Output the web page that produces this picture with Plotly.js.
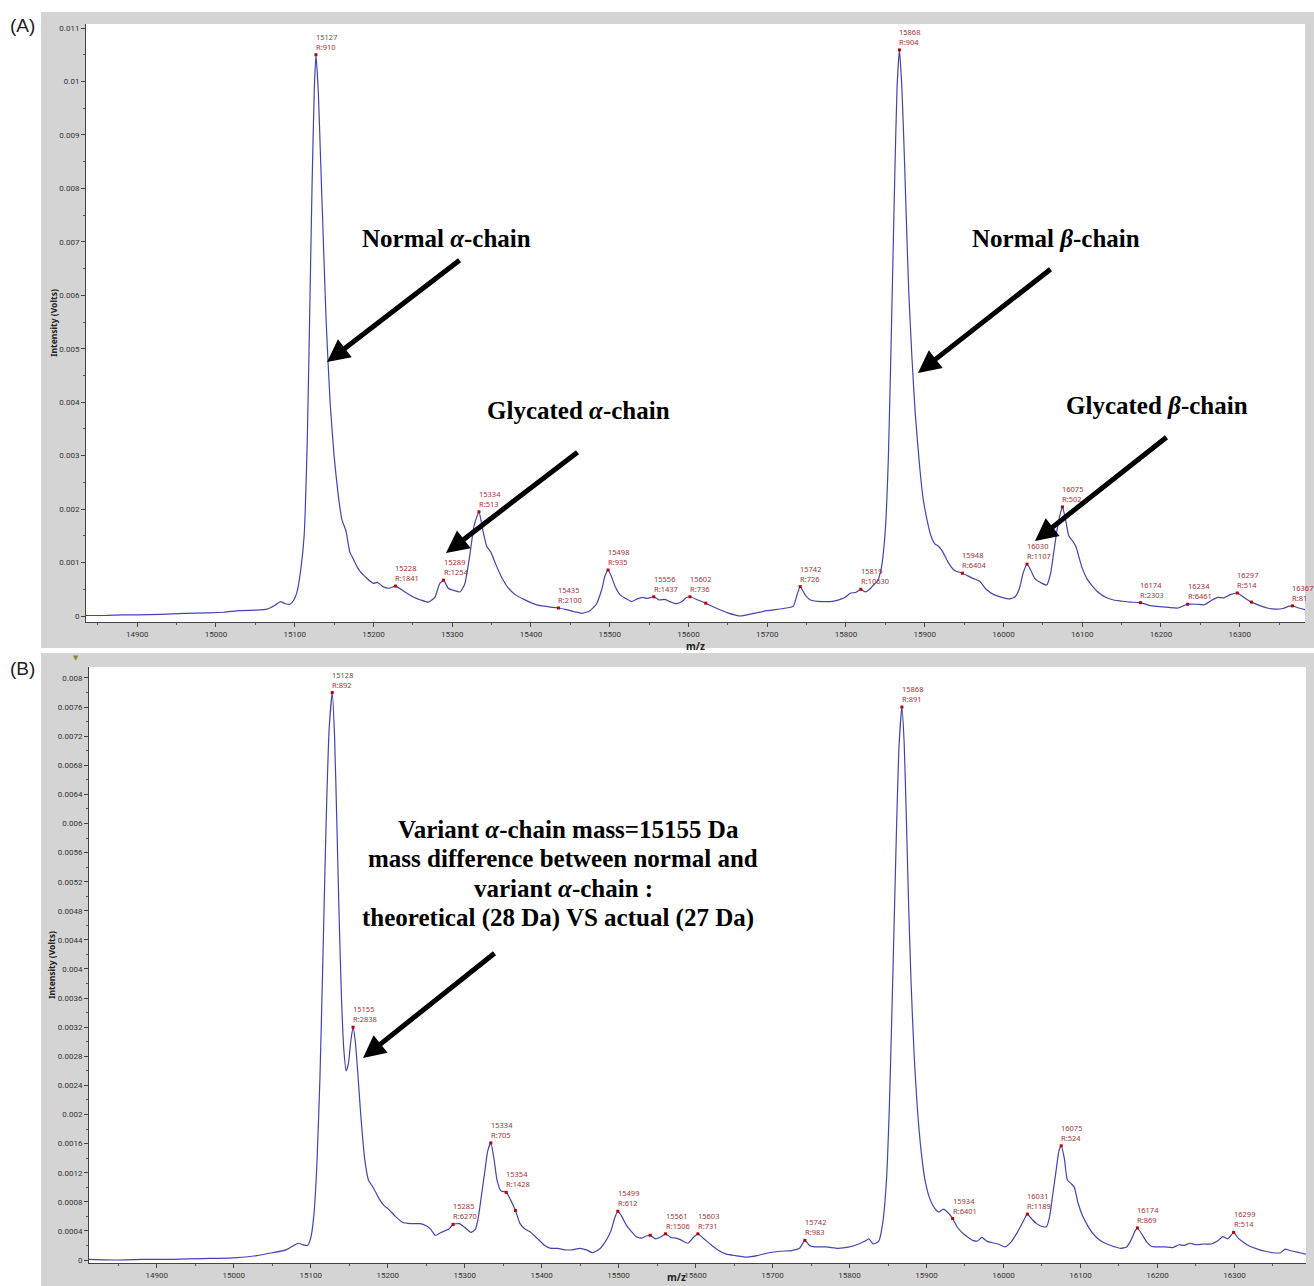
<!DOCTYPE html>
<html><head><meta charset="utf-8">
<script src="https://cdn.plot.ly/plotly-3.0.1.min.js"></script>
<style>html,body{margin:0;padding:0;background:#fff;overflow:hidden}#chart{width:1314px;height:1286px}</style>
</head><body><div id="chart"></div>
<script>
// ---------- Panel A spectrum (m/z, intensity in Volts) ----------
const massA = [14835,14860,14880,14900,14930,14960,14990,15010,15030,15050,15065,15075,15082,15088,15094,15099,15103,15108,15112,15116,15119,15122,15125,15127,15130,15133,15136,15140,15145,15150,15155,15160,15165,15170,15175,15180,15185,15190,15195,15200,15205,15212,15220,15228,15240,15250,15260,15270,15278,15284,15289,15295,15302,15310,15316,15322,15328,15334,15339,15344,15349,15355,15362,15370,15380,15390,15400,15410,15420,15428,15435,15445,15455,15465,15475,15483,15490,15494,15498,15502,15507,15513,15520,15528,15535,15542,15548,15556,15563,15570,15578,15585,15592,15597,15602,15612,15622,15635,15650,15666,15680,15700,15720,15733,15738,15742,15748,15755,15770,15785,15798,15806,15812,15819,15825,15830,15835,15840,15845,15850,15854,15858,15862,15865,15868,15871,15874,15877,15880,15884,15888,15893,15898,15903,15908,15913,15918,15923,15930,15938,15948,15955,15962,15970,15978,15988,15998,16008,16015,16020,16025,16030,16035,16040,16048,16055,16060,16064,16068,16072,16075,16079,16083,16088,16092,16096,16100,16106,16112,16120,16130,16140,16150,16160,16174,16185,16195,16210,16222,16234,16245,16255,16265,16272,16280,16288,16297,16305,16315,16325,16335,16345,16355,16362,16367,16375,16383];
const intA = [0.00001,0.00001,0.00002,0.00002,0.00003,0.00005,0.00006,0.00007,0.00010,0.00011,0.00013,0.00020,0.00027,0.00023,0.00022,0.00030,0.00045,0.00090,0.00150,0.00330,0.00560,0.00800,0.00990,0.01050,0.00980,0.00850,0.00720,0.00550,0.00400,0.00300,0.00230,0.00180,0.00160,0.00120,0.00105,0.00090,0.00080,0.00073,0.00066,0.00061,0.00063,0.00055,0.00052,0.00056,0.00045,0.00036,0.00030,0.00026,0.00035,0.00060,0.00067,0.00052,0.00048,0.00045,0.00060,0.00110,0.00170,0.00195,0.00160,0.00130,0.00120,0.00098,0.00075,0.00055,0.00040,0.00032,0.00025,0.00020,0.00018,0.00016,0.00015,0.00012,0.00008,0.00005,0.00010,0.00022,0.00050,0.00075,0.00086,0.00075,0.00055,0.00040,0.00033,0.00027,0.00032,0.00035,0.00033,0.00036,0.00030,0.00031,0.00026,0.00023,0.00027,0.00034,0.00036,0.00030,0.00024,0.00015,0.00006,0.00000,0.00004,0.00010,0.00014,0.00018,0.00040,0.00055,0.00040,0.00030,0.00027,0.00028,0.00034,0.00043,0.00044,0.00050,0.00045,0.00050,0.00058,0.00065,0.00090,0.00160,0.00300,0.00550,0.00820,0.00990,0.01059,0.00990,0.00870,0.00730,0.00600,0.00480,0.00380,0.00290,0.00220,0.00180,0.00150,0.00135,0.00130,0.00120,0.00100,0.00085,0.00080,0.00075,0.00070,0.00065,0.00050,0.00040,0.00035,0.00032,0.00036,0.00050,0.00080,0.00097,0.00085,0.00070,0.00062,0.00058,0.00080,0.00120,0.00160,0.00190,0.00204,0.00180,0.00150,0.00140,0.00130,0.00110,0.00090,0.00070,0.00058,0.00045,0.00035,0.00030,0.00028,0.00026,0.00025,0.00020,0.00018,0.00016,0.00015,0.00022,0.00022,0.00021,0.00030,0.00035,0.00034,0.00040,0.00043,0.00035,0.00026,0.00020,0.00015,0.00013,0.00014,0.00018,0.00019,0.00015,0.00012];

// Panel A labelled peaks
const peakMassA = [15127,15228,15289,15334,15435,15498,15556,15602,15742,15819,15868,15948,16030,16075,16174,16234,16297,16367];
const peakIntA  = [0.01050,0.00056,0.00067,0.00195,0.00015,0.00086,0.00036,0.00036,0.00055,0.00050,0.01059,0.00080,0.00097,0.00204,0.00025,0.00022,0.00043,0.00019];
const peakResA  = [910,1841,1254,513,2100,935,1437,736,726,10630,904,6404,1107,502,2303,6461,514,81];
// Panel A unlabelled marks
const markMassA = [15622,16315];
const markIntA  = [0.00024,0.00026];

// ---------- Panel B spectrum ----------
const massB = [14812,14850,14880,14920,14960,15000,15030,15050,15068,15078,15084,15090,15096,15100,15104,15108,15112,15116,15120,15124,15128,15131,15134,15137,15140,15143,15146,15149,15152,15155,15158,15161,15165,15170,15175,15181,15189,15195,15201,15210,15219,15230,15242,15250,15256,15262,15268,15276,15280,15285,15293,15300,15308,15314,15318,15322,15326,15330,15334,15338,15342,15347,15354,15360,15366,15372,15378,15386,15394,15404,15412,15421,15430,15440,15450,15458,15466,15474,15482,15490,15495,15499,15504,15510,15516,15523,15530,15536,15541,15548,15555,15561,15568,15575,15582,15590,15597,15603,15610,15620,15630,15640,15652,15667,15680,15695,15710,15725,15735,15742,15748,15755,15770,15785,15800,15812,15820,15825,15831,15838,15843,15848,15852,15856,15860,15864,15868,15871,15874,15877,15880,15884,15888,15893,15898,15904,15910,15916,15922,15927,15934,15940,15946,15953,15960,15966,15972,15978,15985,15993,16002,16010,16018,16025,16031,16037,16043,16050,16056,16060,16064,16068,16072,16075,16079,16083,16088,16092,16097,16103,16109,16115,16122,16130,16137,16145,16152,16160,16166,16171,16174,16180,16186,16192,16200,16210,16220,16228,16235,16242,16250,16260,16270,16278,16285,16291,16295,16299,16305,16312,16320,16330,16340,16350,16360,16366,16372,16385,16393];
const intB = [0.00001,0.00000,0.00001,0.00001,0.00002,0.00003,0.00006,0.00010,0.00014,0.00020,0.00023,0.00021,0.00020,0.00030,0.00060,0.00130,0.00250,0.00420,0.00600,0.00730,0.00780,0.00720,0.00600,0.00470,0.00360,0.00290,0.00260,0.00270,0.00300,0.00320,0.00300,0.00260,0.00200,0.00140,0.00110,0.00100,0.00084,0.00075,0.00070,0.00060,0.00052,0.00050,0.00050,0.00047,0.00042,0.00034,0.00037,0.00041,0.00043,0.00049,0.00050,0.00045,0.00038,0.00042,0.00060,0.00090,0.00120,0.00150,0.00161,0.00140,0.00110,0.00095,0.00093,0.00082,0.00068,0.00050,0.00043,0.00038,0.00030,0.00020,0.00016,0.00016,0.00014,0.00014,0.00016,0.00014,0.00010,0.00014,0.00024,0.00040,0.00058,0.00067,0.00060,0.00048,0.00040,0.00032,0.00030,0.00033,0.00034,0.00029,0.00032,0.00036,0.00031,0.00030,0.00027,0.00023,0.00031,0.00036,0.00030,0.00021,0.00013,0.00008,0.00006,0.00004,0.00006,0.00010,0.00012,0.00013,0.00016,0.00027,0.00020,0.00018,0.00018,0.00016,0.00018,0.00022,0.00026,0.00029,0.00022,0.00026,0.00050,0.00110,0.00220,0.00380,0.00550,0.00700,0.00760,0.00710,0.00600,0.00480,0.00380,0.00280,0.00210,0.00150,0.00110,0.00085,0.00072,0.00066,0.00070,0.00066,0.00057,0.00045,0.00038,0.00032,0.00027,0.00026,0.00031,0.00026,0.00024,0.00022,0.00018,0.00025,0.00038,0.00052,0.00063,0.00056,0.00050,0.00046,0.00046,0.00060,0.00090,0.00120,0.00150,0.00157,0.00140,0.00110,0.00105,0.00100,0.00078,0.00060,0.00048,0.00038,0.00030,0.00024,0.00021,0.00018,0.00016,0.00018,0.00028,0.00040,0.00044,0.00035,0.00025,0.00019,0.00018,0.00018,0.00017,0.00021,0.00020,0.00023,0.00021,0.00022,0.00022,0.00026,0.00032,0.00029,0.00033,0.00038,0.00030,0.00024,0.00019,0.00015,0.00012,0.00010,0.00010,0.00015,0.00013,0.00010,0.00008];

const peakMassB = [15128,15155,15285,15334,15354,15499,15561,15603,15742,15868,15934,16031,16075,16174,16299];
const peakIntB  = [0.00780,0.00320,0.00049,0.00161,0.00093,0.00067,0.00036,0.00036,0.00027,0.00760,0.00057,0.00063,0.00157,0.00044,0.00038];
const peakResB  = [892,2838,6270,705,1428,612,1506,731,983,891,6401,1189,524,869,514];
const markMassB = [15366,15541];
const markIntB  = [0.00068,0.00034];

// ---------- Texts ----------
const panelLabels = ['(A)','(B)'];
const calloutsA = ['<b>Normal <i>α</i>-chain</b>','<b>Normal <i>β</i>-chain</b>','<b>Glycated <i>α</i>-chain</b>','<b>Glycated <i>β</i>-chain</b>'];
const calloutB = ['<b>Variant <i>α</i>-chain mass=15155 Da</b>','<b>mass difference between normal and</b>','<b>variant <i>α</i>-chain :</b>','<b>theoretical (28 Da) VS actual (27 Da)</b>'];
const xTitle = '<b>m/z</b>';
const yTitle = '<b>Intensity (Volts)</b>';

// ---------- Layout geometry (pixels) ----------
const W = 1314, H = 1286;
const px = x => x / W, py = y => 1 - y / H;

const lineColor = '#4444b0';
const labColor = '#a83232';
const tickFont = {family:'Roboto, Noto Sans, sans-serif', size:8, color:'#333'};
const labFont = {family:'Noto Sans, Open Sans, sans-serif', size:7.5, color:labColor};
const serif = {family:'Liberation Serif, Times New Roman, serif', size:25, color:'#000'};
const titleFontX = {family:'Noto Sans, sans-serif', size:10, color:'#222'};

const lineStyle = {color:lineColor, width:1.2, shape:'spline', smoothing:0.5};
const traces = [
  {x:massA, y:intA, xaxis:'x', yaxis:'y', mode:'lines', line:lineStyle, hoverinfo:'skip', showlegend:false},
  {x:peakMassA.concat(markMassA), y:peakIntA.concat(markIntA), xaxis:'x', yaxis:'y', mode:'markers', marker:{symbol:'square', size:3, color:'#c00000'}, showlegend:false, hoverinfo:'skip'},
  {x:massB, y:intB, xaxis:'x2', yaxis:'y2', mode:'lines', line:lineStyle, hoverinfo:'skip', showlegend:false},
  {x:peakMassB.concat(markMassB), y:peakIntB.concat(markIntB), xaxis:'x2', yaxis:'y2', mode:'markers', marker:{symbol:'square', size:3, color:'#c00000'}, showlegend:false, hoverinfo:'skip'}
];

function axisX(domain, range, anchor, withTitle){
  const ax = {domain:domain, range:range, anchor:anchor, showline:true, linecolor:'#444', linewidth:1,
    ticks:'outside', ticklen:4, tickcolor:'#444', tickwidth:1, dtick:100, tick0:0, tickformat:'d',
    minor:{dtick:50, ticks:'outside', ticklen:2, tickcolor:'#555', showgrid:false},
    showgrid:false, zeroline:false, tickfont:tickFont};
  if (withTitle) ax.title = {text:xTitle, font:titleFontX, standoff:0};
  return ax;
}
function axisY(domain, range, anchor, dt){
  return {domain:domain, range:range, anchor:anchor, showline:true, linecolor:'#444', linewidth:1,
    ticks:'outside', ticklen:4, tickcolor:'#444', tickwidth:1, dtick:dt, tick0:0, tickformat:'~g', exponentformat:'none',
    minor:{dtick:dt/2, ticks:'outside', ticklen:2, tickcolor:'#555', showgrid:false},
    showgrid:false, zeroline:false, tickfont:tickFont,
    title:{text:yTitle, font:{family:'Noto Sans, sans-serif', size:8.5, color:'#222'}, standoff:0}};
}

function peakNotes(masses, ints, res, xr, yr){
  return masses.map((m,i)=>({x:m, y:ints[i], xref:xr, yref:yr, text:m+'<br>R:'+res[i], showarrow:false,
    xanchor:'left', yanchor:'bottom', align:'left', xshift:-2, yshift:1, font:labFont}));
}
function paperText(x, y, text, font, xa, ya){
  return {x:px(x), y:py(y), xref:'paper', yref:'paper', text:text, showarrow:false, xanchor:xa||'center', yanchor:ya||'middle', font:font};
}

const annotations = [].concat(
  peakNotes(peakMassA, peakIntA, peakResA, 'x', 'y'),
  peakNotes(peakMassB, peakIntB, peakResB, 'x2', 'y2'),
  [
    paperText(8, 25, panelLabels[0], {family:'Liberation Sans, Arial, sans-serif', size:19, color:'#222'}, 'left', 'middle'),
    paperText(8, 668, panelLabels[1], {family:'Liberation Sans, Arial, sans-serif', size:19, color:'#222'}, 'left', 'middle'),
    paperText(76, 658, '▼', {family:'DejaVu Sans', size:7, color:'#8a8a2a'}),
    paperText(446, 238, calloutsA[0], serif),
    paperText(1056, 238, calloutsA[1], serif),
    paperText(578, 410, calloutsA[2], serif),
    paperText(1157, 405, calloutsA[3], serif),
    paperText(568, 829, calloutB[0], serif),
    paperText(563, 858, calloutB[1], serif),
    paperText(563, 888, calloutB[2], serif),
    paperText(558, 918, calloutB[3], serif),
    paperText(676, 1286, xTitle, titleFontX, 'center', 'bottom')
  ],
  [[327,362,461,259],[918,373,1052,268],[446,553,579,451],[1035,541,1168,436],[363,1058,496,952]].map(a=>({
    x:px(a[0]), y:py(a[1]), xref:'paper', yref:'paper', text:'', showarrow:true, ax:a[2]-a[0], ay:a[3]-a[1],
    arrowhead:2, arrowsize:0.9, arrowwidth:5, arrowcolor:'#000', standoff:0
  }))
);

const shapes = [
  {type:'rect', xref:'paper', yref:'paper', x0:px(41), x1:1, y0:py(648), y1:py(12), fillcolor:'#d4d4d4', line:{width:0}, layer:'below'},
  {type:'rect', xref:'paper', yref:'paper', x0:px(41), x1:1, y0:0, y1:py(653), fillcolor:'#d4d4d4', line:{width:0}, layer:'below'},
  {type:'rect', xref:'paper', yref:'paper', x0:px(86), x1:px(1305), y0:py(622), y1:py(24), fillcolor:'#ffffff', line:{width:0}, layer:'below'},
  {type:'rect', xref:'paper', yref:'paper', x0:px(89), x1:px(1306), y0:py(1263), y1:py(667), fillcolor:'#ffffff', line:{width:0}, layer:'below'}
];

const layout = {
  width:W, height:H, autosize:false, margin:{l:0,r:0,t:0,b:0,pad:0},
  paper_bgcolor:'#ffffff', plot_bgcolor:'#ffffff', showlegend:false,
  xaxis: axisX([px(86), px(1305)], [14835,16383], 'y', true),
  yaxis: axisY([py(622), py(24)], [-0.000112, 0.011075], 'x', 0.001),
  xaxis2: axisX([px(89), px(1306)], [14812,16393], 'y2', false),
  yaxis2: axisY([py(1263), py(667)], [-0.0000412, 0.008151], 'x2', 0.0004),
  shapes: shapes,
  annotations: annotations
};

Plotly.newPlot('chart', traces, layout, {displayModeBar:false, staticPlot:true});
</script>
</body></html>
